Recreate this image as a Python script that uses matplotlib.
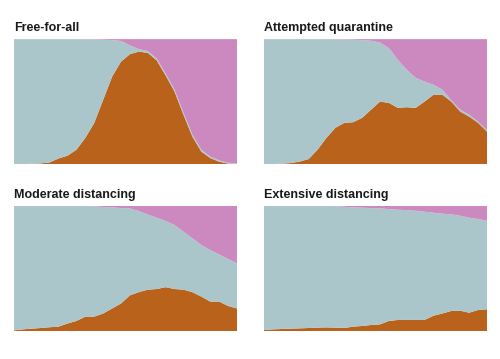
import matplotlib.pyplot as plt
import numpy as np

# share of the population over time
titles = [
    "Free-for-all",
    "Attempted quarantine",
    "Moderate distancing",
    "Extensive distancing",
]

infected = [
    [0.0, 0.0, 0.002, 0.005, 0.013, 0.045, 0.067, 0.115, 0.21, 0.33, 0.515,
     0.70, 0.82, 0.88, 0.90, 0.89, 0.83, 0.71, 0.58, 0.395, 0.22, 0.10,
     0.048, 0.019, 0.004, 0.0],
    [0.0, 0.0, 0.003, 0.008, 0.02, 0.04, 0.115, 0.21, 0.29, 0.33, 0.335,
     0.37, 0.435, 0.50, 0.49, 0.45, 0.455, 0.45, 0.50, 0.555, 0.555, 0.50,
     0.42, 0.38, 0.33, 0.26],
    [0.005, 0.013, 0.019, 0.024, 0.03, 0.035, 0.06, 0.08, 0.115, 0.115, 0.14,
     0.18, 0.22, 0.285, 0.31, 0.33, 0.335, 0.35, 0.335, 0.33, 0.31, 0.275,
     0.235, 0.235, 0.20, 0.18],
    [0.008, 0.013, 0.016, 0.019, 0.021, 0.024, 0.027, 0.029, 0.027, 0.024,
     0.035, 0.04, 0.048, 0.053, 0.08, 0.088, 0.088, 0.088, 0.088, 0.122,
     0.14, 0.16, 0.162, 0.146, 0.168, 0.173],
]

recovered = [
    [0.0, 0.0, 0.0, 0.0, 0.0, 0.0, 0.0, 0.0, 0.002, 0.003, 0.005, 0.008,
     0.015, 0.05, 0.08, 0.095, 0.155, 0.275, 0.405, 0.59, 0.765, 0.885,
     0.94, 0.97, 0.99, 0.995],
    [0.0, 0.0, 0.0, 0.0, 0.0, 0.0, 0.0, 0.0, 0.002, 0.003, 0.005, 0.008,
     0.013, 0.027, 0.072, 0.165, 0.245, 0.31, 0.34, 0.365, 0.405, 0.49,
     0.565, 0.605, 0.66, 0.73],
    [0.0, 0.0, 0.0, 0.0, 0.0, 0.0, 0.0, 0.0, 0.002, 0.005, 0.01, 0.013,
     0.019, 0.021, 0.043, 0.07, 0.096, 0.122, 0.154, 0.207, 0.26, 0.314,
     0.354, 0.388, 0.425, 0.46],
    [0.0, 0.0, 0.0, 0.0, 0.0, 0.0, 0.0, 0.0, 0.003, 0.008, 0.013, 0.016,
     0.019, 0.021, 0.027, 0.032, 0.035, 0.04, 0.048, 0.056, 0.064, 0.069,
     0.08, 0.096, 0.106, 0.12],
]

BROWN = "#b9621b"
TEAL = "#abc6ca"
PINK = "#cb89bf"

# axes boxes in figure fractions (left, bottom, width, height)
boxes = [
    (0.028, 0.543, 0.446, 0.348),
    (0.528, 0.543, 0.446, 0.348),
    (0.028, 0.078, 0.446, 0.349),
    (0.528, 0.078, 0.446, 0.349),
]

fig = plt.figure(figsize=(5.0, 3.59), dpi=100)

for title, inf, rec, box in zip(titles, infected, recovered, boxes):
    ax = fig.add_axes(box)
    inf = np.array(inf)
    rec = np.array(rec)
    healthy = 1.0 - inf - rec
    t = np.linspace(0, 1, len(inf))

    ax.stackplot(t, inf, healthy, rec, colors=[BROWN, TEAL, PINK],
                 linewidth=0)
    ax.set_xlim(0, 1)
    ax.set_ylim(0, 1)
    ax.set_axis_off()

    ax.text(0, 1 + 8 / 125, title, transform=ax.transAxes,
            ha="left", va="baseline", fontsize=9, fontweight="bold",
            family=["Liberation Sans", "DejaVu Sans"], color="#1a1a1a")

fig.savefig("out.png", dpi=100, facecolor="white")
